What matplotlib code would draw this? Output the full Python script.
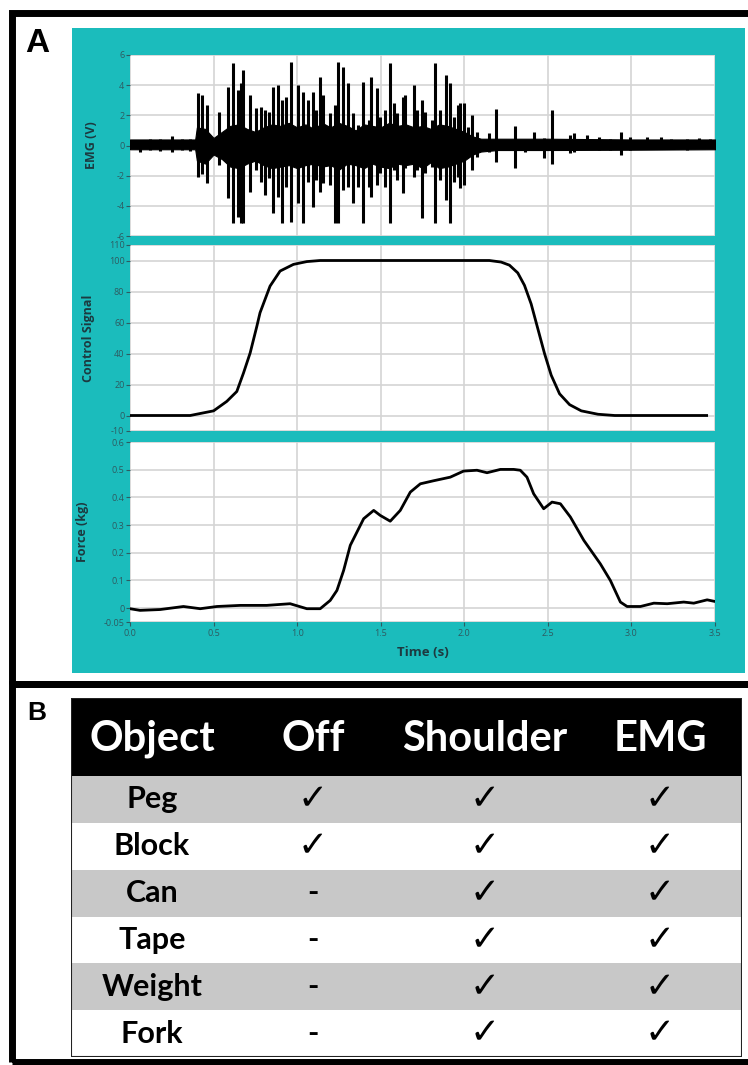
import matplotlib.pyplot as plt
import matplotlib.patches as mpatches
import numpy as np

W, H = 748, 1065
TEAL = '#1bbcbc'
TICK_C = '#2e5a60'
LAB_C = '#1d3a40'
GRID_C = '#d4d4d4'

# --- EMG: dense core envelope and individual spikes (t [s], V)
emg_core_t = [0.00, 0.39, 0.40, 0.45, 0.50, 0.55, 0.60, 0.65, 0.70, 0.75, 0.80, 0.85,
              0.90, 0.95, 1.00, 1.05, 1.10, 1.15, 1.20, 1.25, 1.30, 1.35, 1.40, 1.45,
              1.50, 1.55, 1.60, 1.65, 1.70, 1.75, 1.80, 1.85, 1.90, 1.95, 2.00, 2.05,
              2.10, 2.20, 2.50, 3.00, 3.50]
emg_core_hi = [0.40, 0.40, 1.2, 1.1, 0.5, 0.9, 1.3, 1.4, 1.1, 0.9, 1.2, 1.4,
               1.3, 1.5, 1.2, 1.4, 1.1, 1.5, 1.2, 1.5, 1.3, 1.0, 1.4, 1.3,
               1.2, 1.5, 1.3, 1.4, 1.2, 1.3, 1.1, 1.4, 1.3, 1.1, 0.9, 0.6,
               0.45, 0.45, 0.45, 0.40, 0.40]
emg_core_lo = [-0.25, -0.25, -1.0, -1.2, -0.6, -0.9, -1.4, -1.5, -1.2, -1.0, -1.3, -1.5,
               -1.4, -1.3, -1.5, -1.3, -1.2, -1.4, -1.3, -1.6, -1.2, -1.3, -1.5, -1.2,
               -1.4, -1.5, -1.2, -1.3, -1.2, -1.5, -1.1, -1.5, -1.4, -1.2, -1.0, -0.6,
               -0.4, -0.3, -0.3, -0.28, -0.25]

emg_spike_t = [0.06, 0.12, 0.18, 0.25, 0.31, 0.36,
               0.409, 0.429, 0.459, 0.535, 0.589, 0.619, 0.649, 0.663, 0.679, 0.715,
               0.754, 0.784, 0.808, 0.834, 0.854, 0.884, 0.908, 0.934, 0.964, 1.004,
               1.034, 1.064, 1.094, 1.114, 1.138, 1.154, 1.198, 1.228, 1.242, 1.274,
               1.307, 1.334, 1.367, 1.397, 1.427, 1.441, 1.477, 1.497, 1.527, 1.557,
               1.577, 1.597, 1.633, 1.647, 1.697, 1.717, 1.747, 1.766, 1.806, 1.826,
               1.856, 1.892, 1.912, 1.936, 1.960, 1.976, 1.996, 2.020, 2.046, 2.076,
               2.146, 2.192, 2.236, 2.302, 2.365, 2.415, 2.475, 2.525, 2.635, 2.659,
               2.735, 2.804, 2.874, 2.938, 2.994, 3.094, 3.174, 3.234, 3.333, 3.403, 3.473]
emg_spike_hi = [0.30, 0.45, 0.40, 0.65, 0.45, 0.40,
                3.46, 3.34, 2.68, 2.24, 3.90, 5.44, 3.68, 4.12, 5.00, 3.34,
                2.46, 2.57, 2.35, 2.24, 3.85, 4.00, 3.01, 3.23, 5.55, 4.00,
                3.57, 3.01, 3.57, 2.35, 4.56, 3.34, 2.13, 2.68, 5.55, 5.22,
                4.12, 2.13, 1.36, 4.23, 1.69, 4.56, 3.79, 1.91, 2.35, 5.44,
                2.79, 2.13, 3.23, 3.34, 4.00, 2.35, 3.01, 2.24, 1.69, 5.50,
                2.35, 4.67, 4.12, 1.91, 2.68, 2.79, 2.79, 1.25, 2.02, 0.92,
                0.81, 2.41, 0.37, 1.30, 0.37, 0.92, 0.48, 2.35, 0.70, 0.81,
                0.70, 0.59, 0.41, 0.92, 0.59, 0.55, 0.55, 0.41, 0.41, 0.48, 0.41]
emg_spike_lo = [-0.40, -0.30, -0.35, -0.45, -0.30, -0.35,
                -2.07, -1.90, -2.50, -1.29, -3.50, -5.15, -4.72, -5.15, -5.15, -3.06,
                -1.62, -2.40, -3.28, -2.17, -4.49, -3.39, -5.15, -2.73, -5.05, -3.83,
                -5.15, -2.40, -4.05, -2.28, -3.06, -2.50, -2.62, -5.15, -5.15, -2.95,
                -2.73, -3.83, -2.73, -5.15, -2.73, -3.39, -2.62, -1.84, -2.73, -5.15,
                -1.62, -2.28, -3.17, -1.51, -2.07, -1.62, -4.82, -1.84, -1.40, -5.15,
                -2.28, -3.61, -5.15, -2.40, -2.07, -2.84, -2.62, -0.73, -1.62, -0.73,
                -0.40, -1.07, -0.29, -1.51, -0.40, -0.18, -0.84, -1.22, -0.51, -0.40,
                -0.18, -0.29, -0.29, -0.62, -0.29, -0.18, -0.18, -0.18, -0.29, -0.18, -0.18]

# --- Control signal
ctrl_t = [0.00, 0.36, 0.50, 0.579, 0.639, 0.679, 0.719, 0.759, 0.778, 0.838, 0.898,
          0.978, 1.058, 1.138, 2.15, 2.22, 2.27, 2.32, 2.36, 2.40, 2.44, 2.48,
          2.52, 2.57, 2.63, 2.70, 2.80, 2.90, 3.45]
ctrl_v = [0.0, 0.0, 3.0, 9.1, 15.5, 27.4, 40.4, 57.6, 66.3, 83.5, 93.2,
          97.5, 99.3, 100.0, 100.0, 99.0, 97.0, 92.0, 84.0, 72.0, 56.0, 40.0,
          26.0, 14.0, 7.0, 3.0, 0.8, 0.0, 0.0]

# --- Force
force_t = [0.00, 0.06, 0.18, 0.32, 0.42, 0.52, 0.66, 0.818, 0.958, 1.058, 1.138,
           1.198, 1.238, 1.278, 1.318, 1.358, 1.398, 1.458, 1.497, 1.557, 1.617,
           1.677, 1.737, 1.816, 1.916, 1.996, 2.076, 2.136, 2.216, 2.296, 2.335,
           2.375, 2.415, 2.475, 2.525, 2.575, 2.635, 2.715, 2.814, 2.874, 2.934,
           2.974, 3.054, 3.134, 3.214, 3.313, 3.373, 3.453, 3.493]
force_v = [-0.002, -0.008, -0.005, 0.006, -0.002, 0.006, 0.010, 0.010, 0.016, -0.002, -0.002,
           0.028, 0.064, 0.136, 0.227, 0.275, 0.323, 0.353, 0.335, 0.314, 0.353,
           0.419, 0.449, 0.460, 0.473, 0.495, 0.498, 0.489, 0.501, 0.501, 0.498,
           0.473, 0.413, 0.359, 0.383, 0.377, 0.329, 0.245, 0.160, 0.100, 0.022,
           0.006, 0.006, 0.018, 0.016, 0.022, 0.018, 0.030, 0.025]

# --- Table
headers = ['Object', 'Off', 'Shoulder', 'EMG']
objects = ['Peg', 'Block', 'Can', 'Tape', 'Weight', 'Fork']
off_col = ['✓', '✓', '-', '-', '-', '-']
shoulder_col = ['✓', '✓', '✓', '✓', '✓', '✓']
emg_col = ['✓', '✓', '✓', '✓', '✓', '✓']


def box(l, t, r, b):
    return [l / W, 1 - b / H, (r - l) / W, (b - t) / H]


def fig_rect(fig, l, t, r, b, **kw):
    fig.patches.append(mpatches.Rectangle((l / W, 1 - b / H), (r - l) / W, (b - t) / H,
                                          transform=fig.transFigure, **kw))


fig = plt.figure(figsize=(W / 100, H / 100), dpi=100)
plt.rcParams['font.family'] = ['Open Sans', 'DejaVu Sans']

# panel frames and teal background (behind the axes)
fig_rect(fig, 72, 28, 745, 673, facecolor=TEAL, edgecolor='none', zorder=-2)
fig_rect(fig, 11.5, 12.5, 760, 684, facecolor='none', edgecolor='black', lw=5, zorder=-1)
fig_rect(fig, 11.5, 684, 760, 1062, facecolor='none', edgecolor='black', lw=5, zorder=-1)
fig.text(25 / W, 1 - 52 / H, 'A', fontsize=24, weight='bold', family='Liberation Sans',
         va='baseline', ha='left')
fig.text(27 / W, 1 - 720 / H, 'B', fontsize=19, weight='bold', family='Liberation Sans',
         va='baseline', ha='left')


def style_axes(ax, ylim, yticks, ylabels, ylabel, labx):
    ax.set_xlim(0, 3.5)
    ax.set_ylim(*ylim)
    ax.set_xticks(np.arange(0, 3.51, 0.5))
    ax.set_yticks(yticks)
    ax.set_yticklabels(ylabels)
    ax.grid(True, color=GRID_C, lw=1.2)
    ax.set_axisbelow(True)
    for s in ax.spines.values():
        s.set_visible(False)
    ax.tick_params(axis='y', length=3, width=0.8, color=TICK_C, labelsize=6.5,
                   labelcolor=TICK_C, pad=1)
    ax.tick_params(axis='x', length=3, width=0.8, color=TICK_C, labelsize=6.5,
                   labelcolor=TICK_C, pad=2)
    ax.set_ylabel(ylabel, fontsize=9, weight='bold', color=LAB_C)
    ax.yaxis.set_label_coords(labx, 0.5)


# EMG
ax1 = fig.add_axes(box(130, 55, 715, 236))
ax1.fill_between(emg_core_t, emg_core_lo, emg_core_hi, color='black', lw=0.8)
ax1.vlines(emg_spike_t, emg_spike_lo, emg_spike_hi, color='black', lw=2.2)
style_axes(ax1, (-6, 6), [6, 4, 2, 0, -2, -4, -6],
           ['6', '4', '2', '0', '-2', '-4', '-6'], 'EMG (V)', -0.055)
ax1.tick_params(axis='x', bottom=False, labelbottom=False)

# Control signal
ax2 = fig.add_axes(box(130, 245, 715, 431))
ax2.plot(ctrl_t, ctrl_v, color='black', lw=2)
style_axes(ax2, (-10, 110), [110, 100, 80, 60, 40, 20, 0, -10],
           ['110', '100', '80', '60', '40', '20', '0', '-10'], 'Control Signal', -0.06)
ax2.tick_params(axis='x', bottom=False, labelbottom=False)

# Force
ax3 = fig.add_axes(box(130, 442, 715, 622))
ax3.plot(force_t, force_v, color='black', lw=2)
style_axes(ax3, (-0.05, 0.6), [0.6, 0.5, 0.4, 0.3, 0.2, 0.1, 0, -0.05],
           ['0.6', '0.5', '0.4', '0.3', '0.2', '0.1', '0', '-0.05'], 'Force (kg)', -0.07)
ax3.set_xticklabels([f'{v:.1f}' for v in np.arange(0, 3.51, 0.5)])
ax3.set_xlabel('Time (s)', fontsize=9.5, weight='bold', color=LAB_C, labelpad=6)

# Table
axt = fig.add_axes(box(71, 698, 742, 1057))
axt.set_xlim(71, 742)
axt.set_ylim(1057, 698)
axt.axis('off')
head_h = 78
row_h = (1057 - 698 - head_h) / len(objects)
col_x = [152, 313, 485, 660]
div_x = [229, 393, 577]
tfont = ['Lato', 'DejaVu Sans']

axt.add_patch(mpatches.Rectangle((71, 698), 671, head_h, facecolor='black', edgecolor='none'))
for cx, h in zip(col_x, headers):
    axt.text(cx, 698 + head_h / 2 + 2, h, color='white', fontsize=30, weight='bold',
             family=tfont, ha='center', va='center')

top = 698 + head_h
for i, name in enumerate(objects):
    y0 = top + i * row_h
    fc = '#c8c8c8' if i % 2 == 0 else 'white'
    axt.add_patch(mpatches.Rectangle((71, y0), 671, row_h, facecolor=fc, edgecolor='none'))
    yc = y0 + row_h / 2
    vals = [name, off_col[i], shoulder_col[i], emg_col[i]]
    for cx, v in zip(col_x, vals):
        if v == '✓':
            axt.text(cx, yc, v, fontsize=26, weight='bold', family=['DejaVu Sans'],
                     ha='center', va='center', color='black')
        else:
            axt.text(cx, yc, v, fontsize=22, weight='bold', family=tfont,
                     ha='center', va='center', color='black')
for dx in div_x:
    axt.plot([dx, dx], [top, 1057], color='#cfcfcf', lw=1, zorder=0.5)
axt.add_patch(mpatches.Rectangle((71, 698), 671, 1057 - 698, facecolor='none',
                                 edgecolor='#222222', lw=1.5))

fig.savefig('out.png', dpi=100)
